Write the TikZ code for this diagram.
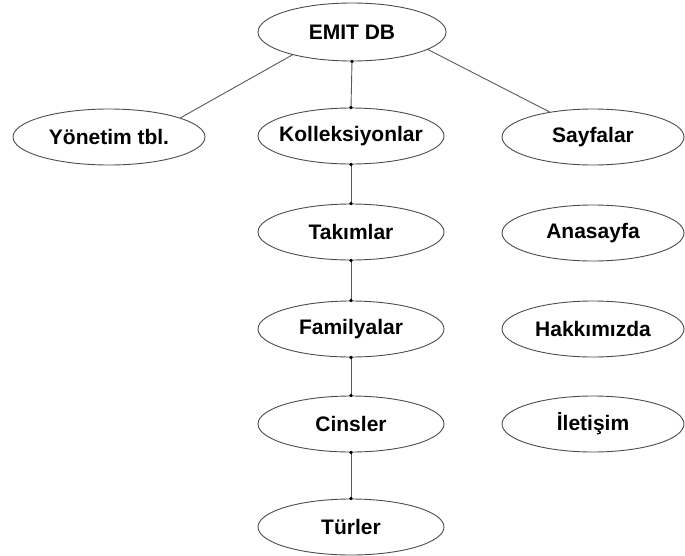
\documentclass[tikz,border=0pt]{standalone}
\usepackage{fontspec}
\setmainfont{Liberation Sans}
\usetikzlibrary{shapes.geometric}
\newcommand\ctext[1]{\makebox[0pt]{#1}}
\tikzset{
  oval/.style={ellipse, draw=black!70, line width=0.9pt, inner sep=0pt,
    minimum width=186pt, minimum height=56pt,
    font=\fontsize{21}{25}\selectfont\bfseries},
  wide/.style={minimum width=192pt},
  link/.style={draw=black!65, line width=0.9pt},
  enddot/.style={fill=black}
}
\begin{document}
\begin{tikzpicture}[x=1pt,y=-1pt]
  \useasboundingbox (0,0) rectangle (685,555);

  % root
  \node[oval, minimum width=188pt, minimum height=58pt] (root) at (352,32) {\ctext{EMIT DB}};

  % left branch
  \node[oval, wide] (yon) at (109,137) {\ctext{Yönetim tbl.}};

  % middle chain
  \node[oval] (kol) at (351,136) {\ctext{Kolleksiyonlar}};
  \node[oval] (tak) at (351,232) {\ctext{Takımlar}};
  \node[oval] (fam) at (351,329) {\ctext{Familyalar}};
  \node[oval] (cin) at (351,424) {\ctext{Cinsler}};
  \node[oval] (tur) at (351,527) {\ctext{Türler}};

  % right column
  \node[oval, minimum width=182pt] (say) at (593,137) {\ctext{Sayfalar}};
  \node[oval, minimum width=182pt] (ana) at (593,233) {\ctext{Anasayfa}};
  \node[oval, minimum width=182pt] (hak) at (593,329) {\ctext{Hakkımızda}};
  \node[oval, minimum width=182pt] (ile) at (593,424) {\ctext{İletişim}};

  % diagonal links
  \draw[link] (root.201) -- (yon.15);
  \draw[link] (root.347) -- (say.150);

  % vertical links with end dots
  \foreach \a/\b in {root/kol, kol/tak, tak/fam, fam/cin, cin/tur} {
    \draw[link] (\a.south) -- (\b.north);
    \fill[enddot] (\a.south) circle (1.9pt);
    \fill[enddot] (\b.north) circle (1.9pt);
  }
\end{tikzpicture}
\end{document}
